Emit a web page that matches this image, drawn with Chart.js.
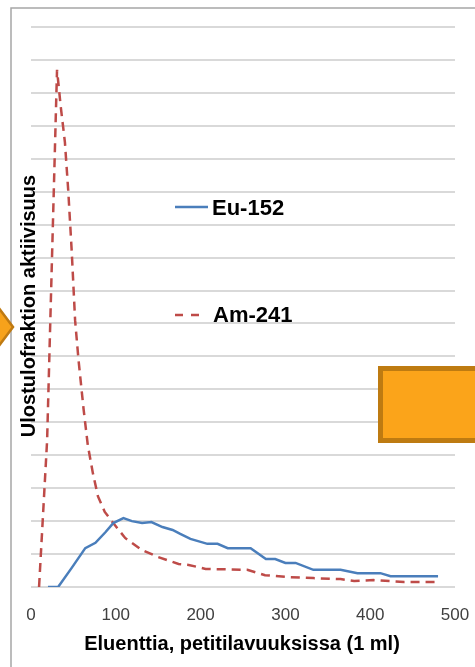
<!DOCTYPE html>
<html>
<head>
<meta charset="utf-8">
<script src="https://cdn.jsdelivr.net/npm/chart.js@4.4.1/dist/chart.umd.min.js"></script>
<style>
html,body{margin:0;padding:0;background:#fff;}
#wrap{width:475px;height:667px;position:relative;}
</style>
</head>
<body>
<div id="wrap"><canvas id="c" width="475" height="667"></canvas></div>
<script>
// ---- data ----
const xTickValues = [0, 100, 200, 300, 400, 500];
const seriesNames = ["Eu-152", "Am-241"];
const xTitle = "Eluenttia, petitilavuuksissa (1 ml)";
const yTitle = "Ulostulofraktion aktiivisuus";

const euX = [20, 32, 48, 64, 76, 88, 97, 109, 119, 131, 142, 155, 167, 176, 188, 208, 220, 232, 259, 277, 288, 300, 312, 333, 365, 385, 412, 424, 480];
const euY = [0, 0, 0.58, 1.18, 1.34, 1.67, 1.94, 2.09, 2.00, 1.94, 1.97, 1.82, 1.73, 1.61, 1.46, 1.31, 1.31, 1.18, 1.18, 0.85, 0.85, 0.73, 0.73, 0.52, 0.52, 0.42, 0.42, 0.33, 0.33];

const amX = [9.5, 19, 30.7, 35, 40, 44, 48, 52, 56, 62, 67, 73, 79, 87, 97, 111, 131, 150, 174, 186, 206, 255, 276, 306, 333, 365, 381, 404, 440, 480];
const amY = [0, 4.45, 15.7, 14.6, 13.5, 12.0, 10.2, 8.1, 6.9, 5.4, 4.3, 3.45, 2.75, 2.28, 1.94, 1.49, 1.12, 0.91, 0.70, 0.67, 0.55, 0.52, 0.36, 0.30, 0.27, 0.24, 0.18, 0.21, 0.15, 0.15];

const yMax = 17;

const toPts = (xs, ys) => xs.map((x, i) => ({x: x, y: ys[i]}));

const EU_COLOR = '#4A7EBB';
const AM_COLOR = '#BE4B48';
const DASH = [9, 6];

const decor = {
  id: 'decor',
  beforeDraw(chart) {
    const ctx = chart.ctx;
    ctx.save();
    ctx.fillStyle = '#fff';
    ctx.fillRect(0, 0, chart.width, chart.height);
    ctx.restore();
  },
  afterDraw(chart) {
    const ctx = chart.ctx;
    ctx.save();
    // outer chart border
    ctx.strokeStyle = '#a6a6a6';
    ctx.lineWidth = 1.5;
    ctx.beginPath();
    ctx.moveTo(11, 700);
    ctx.lineTo(11, 8);
    ctx.lineTo(500, 8);
    ctx.stroke();

    // axis titles
    ctx.fillStyle = '#000';
    ctx.font = 'bold 20px "Liberation Sans", Arial, sans-serif';
    ctx.textAlign = 'center';
    ctx.textBaseline = 'alphabetic';
    ctx.fillText(xTitle, 242, 650);

    ctx.save();
    ctx.translate(35, 306);
    ctx.rotate(-Math.PI / 2);
    ctx.fillText(yTitle, 0, 0);
    ctx.restore();

    // legend
    ctx.textAlign = 'left';
    ctx.font = 'bold 22px "Liberation Sans", Arial, sans-serif';
    ctx.lineWidth = 2.5;
    ctx.strokeStyle = EU_COLOR;
    ctx.setLineDash([]);
    ctx.beginPath(); ctx.moveTo(175, 207); ctx.lineTo(208, 207); ctx.stroke();
    ctx.fillText(seriesNames[0], 212, 215);
    ctx.strokeStyle = AM_COLOR;
    ctx.setLineDash([8, 8]);
    ctx.beginPath(); ctx.moveTo(175, 315); ctx.lineTo(200, 315); ctx.stroke();
    ctx.setLineDash([]);
    ctx.fillText(seriesNames[1], 213, 322);

    // orange arrow tip on the left edge
    ctx.fillStyle = '#F7A21B';
    ctx.strokeStyle = '#BF7A12';
    ctx.lineWidth = 2.5;
    ctx.beginPath();
    ctx.moveTo(-5, 303);
    ctx.lineTo(13, 327);
    ctx.lineTo(-5, 351);
    ctx.closePath();
    ctx.fill();
    ctx.stroke();

    // orange rectangle on the right edge
    ctx.fillStyle = '#FBA41A';
    ctx.fillRect(378, 366, 110, 76);
    ctx.strokeStyle = '#BE7B11';
    ctx.lineWidth = 5;
    ctx.strokeRect(380.5, 368.5, 110, 72);
    ctx.restore();
  }
};

new Chart(document.getElementById('c'), {
  type: 'line',
  data: {
    datasets: [
      {
        label: seriesNames[0],
        data: toPts(euX, euY),
        borderColor: EU_COLOR,
        borderWidth: 2.5,
        pointRadius: 0,
        tension: 0,
        fill: false
      },
      {
        label: seriesNames[1],
        data: toPts(amX, amY),
        borderColor: AM_COLOR,
        borderWidth: 2.5,
        borderDash: DASH,
        pointRadius: 0,
        tension: 0,
        fill: false
      }
    ]
  },
  options: {
    responsive: false,
    animation: false,
    events: [],
    layout: { padding: { left: 31, right: 20, top: 27, bottom: 0 } },
    plugins: { legend: { display: false }, tooltip: { enabled: false }, title: { display: false } },
    scales: {
      x: {
        type: 'linear',
        min: 0, max: 500,
        afterBuildTicks: (s) => { s.ticks = xTickValues.map(v => ({value: v})); },
        grid: { display: false, drawTicks: false },
        border: { display: false },
        ticks: {
          color: '#404040',
          font: { family: '"Liberation Sans", Arial, sans-serif', size: 17 },
          padding: 18,
          maxRotation: 0,
          autoSkip: false
        },
        afterFit: (s) => { s.height = 80; s.paddingLeft = 0; s.paddingRight = 0; }
      },
      y: {
        min: 0, max: yMax,
        ticks: { display: false, stepSize: 1 },
        grid: { color: '#d9d9d9', lineWidth: 2, drawTicks: false },
        border: { display: false },
        afterFit: (s) => { s.width = 0; s.paddingTop = 0; s.paddingBottom = 0; }
      }
    }
  },
  plugins: [decor]
});
</script>
</body>
</html>
